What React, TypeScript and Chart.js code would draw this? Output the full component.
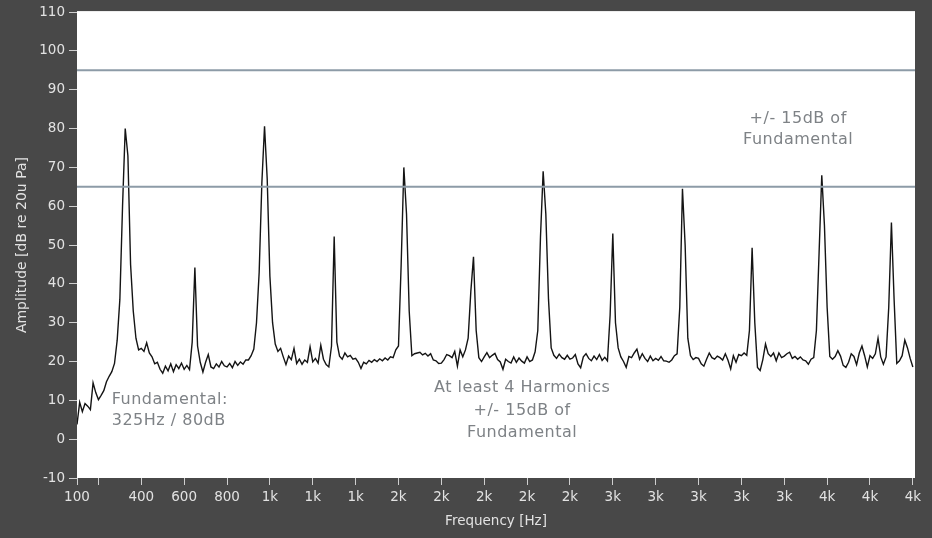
import React, { useEffect, useRef } from "react";
import { Chart, registerables } from "chart.js";

Chart.register(...registerables);

// Spectrum samples: first bin frequency and bin spacing (Hz)
const FREQ_START = 100;
const FREQ_STEP = 12.5;

// Amplitude (dB re 20u Pa), one row = 100 Hz (8 bins of 12.5 Hz), 100 Hz .. 4000 Hz
const amplitude: number[] = [
  3.8, 9.5, 7.1, 9.2, 8.5, 7.6, 14.5, 12,          // 100
  10.2, 11.3, 12.5, 14.8, 16.2, 17.4, 19.5, 25.5,  // 200
  36, 60, 80, 73, 45, 33, 26, 23,                  // 300
  23.4, 22.6, 24.8, 22.2, 21.2, 19.4, 19.8, 18.0,  // 400
  17.0, 18.8, 17.6, 19.4, 17.4, 19.2, 18.2, 19.6,  // 500
  18.0, 19.0, 17.9, 25, 44.2, 24, 19.8, 17.3,      // 600
  19.8, 21.8, 18.6, 18.2, 19.4, 18.6, 20.0, 18.9,  // 700
  18.6, 19.5, 18.4, 20.0, 19.0, 19.9, 19.3, 20.4,  // 800
  20.4, 21.5, 23.2, 30, 43, 66, 80.6, 67,          // 900
  42, 30, 24.5, 22.6, 23.4, 21.2, 19.2, 21.4,      // 1000
  20.5, 23.4, 19.5, 20.6, 19.3, 20.4, 19.8, 23.8,  // 1100
  19.9, 20.8, 19.6, 24.2, 20.6, 19.2, 18.6, 24,    // 1200
  52.2, 25, 21.4, 20.6, 22.2, 21.2, 21.6, 20.6,    // 1300
  20.8, 19.8, 18.2, 19.8, 19.4, 20.3, 19.8, 20.5,  // 1400
  20.0, 20.7, 20.2, 20.9, 20.4, 21.2, 21.0, 23,    // 1500
  24, 45, 70, 58, 33, 21.5, 22, 22.2,              // 1600
  22.4, 21.7, 22.1, 21.4, 22.0, 20.4, 20.2, 19.5,  // 1700
  19.6, 20.5, 21.8, 21.5, 21, 22.6, 18.8, 23,      // 1800
  21.2, 23, 26, 38, 47, 28, 21, 20,                // 1900
  21.2, 22.3, 21.0, 21.6, 22.1, 20.5, 19.9, 18.0,  // 2000
  20.6, 20.0, 19.6, 21.2, 19.8, 20.9, 20.1, 19.6,  // 2100
  21.2, 20, 20.4, 22.5, 28, 52, 69, 58,            // 2200
  36, 23.5, 21.6, 20.8, 21.9, 21.0, 20.6, 21.6,    // 2300
  20.6, 20.9, 21.8, 19.4, 18.4, 21.2, 22.0, 20.8,  // 2400
  20.2, 21.4, 20.5, 21.8, 20.3, 21.1, 20.2, 32,    // 2500
  53, 30, 23.5, 21.2, 20, 18.5, 21.3, 21,          // 2600
  22.2, 23.2, 20.6, 22.0, 20.8, 20.0, 21.4, 20.2,  // 2700
  20.8, 20.3, 21.3, 20.2, 20.1, 19.8, 20.4, 21.5,  // 2800
  22, 34, 64.5, 50, 26, 21.5, 20.5, 21,            // 2900
  20.8, 19.4, 18.8, 20.6, 22.2, 21.0, 20.6, 21.4,  // 3000
  21, 20.4, 22, 20.3, 18.1, 21.5, 19.8, 21.8,      // 3100
  21.5, 22.2, 21.6, 28, 49.3, 30, 18.5, 17.7,      // 3200
  20.5, 24.5, 22, 21.3, 22.2, 20.2, 22.2, 21,      // 3300
  21.4, 22.0, 22.4, 20.8, 21.3, 20.6, 21.2, 20.4,  // 3400
  20.2, 19.3, 20.6, 21, 28, 48, 68, 55,            // 3500
  34, 21.3, 20.6, 21.3, 22.8, 21.4, 19, 18.5,      // 3600
  19.8, 22, 21.3, 19.2, 22.2, 24, 21.5, 18.6,      // 3700
  21.5, 20.8, 22, 26, 21.2, 19.3, 21.2, 34,        // 3800
  55.8, 36, 19.5, 20.2, 21.5, 25.5, 23.5, 20.8,    // 3900
  18.6,                                            // 4000
];

// Limit lines (+/- 15 dB of the 80 dB fundamental)
const LIMIT_UPPER = 95;
const LIMIT_LOWER = 65;

// Axis ticks
const X_TICKS: number[] = [100, 200, 400, 600, 800, 1000, 1200, 1400, 1600, 1800, 2000, 2200, 2400, 2600, 2800, 3000, 3200, 3400, 3600, 3800, 4000];
const X_HIDDEN_LABEL = 200;
const Y_MIN = -10;
const Y_MAX = 110;
const Y_STEP = 10;

// Texts
const X_TITLE = "Frequency [Hz]";
const Y_TITLE = "Amplitude [dB re 20u Pa]";
const NOTE_LIMIT = ["+/- 15dB of", "Fundamental"];
const NOTE_FUNDAMENTAL = ["Fundamental:", "325Hz / 80dB"];
const NOTE_HARMONICS = ["At least 4 Harmonics", "+/- 15dB of", "Fundamental"];

const FONT = "'DejaVu Sans', Verdana, sans-serif";

function xLabel(v: number): string {
  if (v === X_HIDDEN_LABEL) return "";
  if (v < 1000) return String(v);
  return Math.round(v / 1000) + "k";
}

const framePlugin = {
  id: "frame",
  beforeDraw(chart: any) {
    const { ctx, chartArea: a, width, height } = chart;
    ctx.save();
    ctx.fillStyle = "#484848";
    ctx.fillRect(0, 0, width, height);
    ctx.fillStyle = "#ffffff";
    ctx.fillRect(a.left, a.top - 1, a.right - a.left, a.bottom - a.top + 1);
    ctx.restore();
  },
  afterDatasetsDraw(chart: any) {
    const { ctx } = chart;
    const xs = chart.scales.x;
    const ys = chart.scales.y;
    ctx.save();
    ctx.font = "16px " + FONT;
    try { (ctx as any).letterSpacing = "0.5px"; } catch (e) { /* ignore */ }
    ctx.fillStyle = "#7e8286";
    ctx.textBaseline = "middle";
    const put = (lines: string[], fx: number, fy: number, align: CanvasTextAlign, dy: number) => {
      ctx.textAlign = align;
      lines.forEach((t, i) => {
        ctx.fillText(t, xs.getPixelForValue(fx), ys.getPixelForValue(fy) + i * dy);
      });
    };
    put(NOTE_LIMIT, 3465, 82.6, "center", 21);
    put(NOTE_FUNDAMENTAL, 262, 10.2, "left", 21);
    put(NOTE_HARMONICS, 2177, 13.1, "center", 22.5);
    ctx.restore();
  },
};

export default function App() {
  const ref = useRef<HTMLCanvasElement | null>(null);

  useEffect(() => {
    if (!ref.current) return;
    const trace = amplitude.map((a, i) => ({ x: FREQ_START + i * FREQ_STEP, y: a }));
    const xEnd = 4010;
    const chart = new Chart(ref.current, {
      type: "line",
      data: {
        datasets: [
          {
            data: [{ x: FREQ_START, y: LIMIT_UPPER }, { x: xEnd, y: LIMIT_UPPER }],
            borderColor: "#8d9ba7",
            borderWidth: 2,
            pointRadius: 0,
          },
          {
            data: [{ x: FREQ_START, y: LIMIT_LOWER }, { x: xEnd, y: LIMIT_LOWER }],
            borderColor: "#8d9ba7",
            borderWidth: 2,
            pointRadius: 0,
          },
          {
            data: trace,
            borderColor: "#141414",
            borderWidth: 1.4,
            pointRadius: 0,
            tension: 0,
          },
        ],
      },
      options: {
        animation: false,
        responsive: false,
        maintainAspectRatio: false,
        events: [],
        layout: { padding: { left: 0, top: 12, right: 17, bottom: 0 } },
        plugins: { legend: { display: false }, tooltip: { enabled: false } },
        scales: {
          x: {
            type: "linear",
            min: FREQ_START,
            max: xEnd,
            afterBuildTicks: (s: any) => {
              s.ticks = X_TICKS.map((v) => ({ value: v }));
            },
            afterFit: (s: any) => {
              s.height = 60;
            },
            ticks: {
              autoSkip: false,
              maxRotation: 0,
              minRotation: 0,
              padding: 4,
              color: "#e2e2e2",
              font: { family: FONT, size: 13.5 },
              callback: (v: any) => xLabel(Number(v)),
            },
            grid: { drawOnChartArea: false, drawTicks: true, tickLength: 7, color: "#cfcfcf" },
            border: { display: false },
            title: {
              display: true,
              text: X_TITLE,
              color: "#e2e2e2",
              font: { family: FONT, size: 13.5 },
              padding: { top: 0, bottom: 8 },
            },
          },
          y: {
            min: Y_MIN,
            max: Y_MAX,
            afterFit: (s: any) => {
              s.width = 77;
            },
            ticks: {
              stepSize: Y_STEP,
              padding: 4,
              color: "#e2e2e2",
              font: { family: FONT, size: 13.5 },
            },
            grid: { drawOnChartArea: false, drawTicks: true, tickLength: 8, color: "#cfcfcf" },
            border: { display: false },
            title: {
              display: true,
              text: Y_TITLE,
              color: "#e2e2e2",
              font: { family: FONT, size: 14 },
              padding: { top: 14, bottom: 0 },
            },
          },
        },
      },
      plugins: [framePlugin],
    });
    return () => chart.destroy();
  }, []);

  return (
    <div style={{ position: "fixed", left: 0, top: 0, width: 932, height: 538, background: "#484848" }}>
      <canvas ref={ref} width={932} height={538} style={{ display: "block", width: 932, height: 538 }} />
    </div>
  );
}
